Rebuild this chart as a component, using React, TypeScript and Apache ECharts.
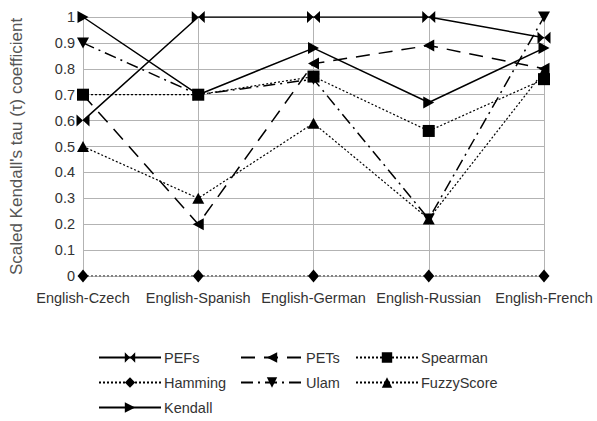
import React, { useEffect, useRef } from "react";
import * as echarts from "echarts";

const categories = ["English-Czech", "English-Spanish", "English-German", "English-Russian", "English-French"];
const pefs = [0.6, 1, 1, 1, 0.92];
const pets = [0.7, 0.2, 0.82, 0.89, 0.8];
const spearman = [0.7, 0.7, 0.77, 0.56, 0.76];
const hamming = [0, 0, 0, 0, 0];
const ulam = [0.9, 0.7, 0.76, 0.22, 1.0];
const fuzzy = [0.5, 0.3, 0.59, 0.22, 0.79];
const kendall = [1.0, 0.7, 0.88, 0.67, 0.88];

const FONT = "Liberation Sans";

const BOWTIE = "path://M0,0L5,5L0,10ZM10,0L5,5L10,10Z";
const LEFT_TRI = "path://M0,5L10,0L10,10Z";
const RIGHT_TRI = "path://M10,5L0,0L0,10Z";
const DOWN_TRI = "path://M0,0L10,0L5,10Z";

function mk(name: string, data: number[], symbol: string, size: number | number[], type: any, width = 1.5) {
  return {
    name,
    type: "line",
    data,
    symbol,
    symbolSize: size,
    symbolKeepAspect: false,
    lineStyle: { color: "#000", width, type },
    itemStyle: { color: "#000" },
    emphasis: { disabled: true },
  };
}

export default function App() {
  const ref = useRef<HTMLDivElement>(null);
  useEffect(() => {
    const chart = echarts.init(ref.current!, undefined, { renderer: "svg" });
    const legendBase = {
      orient: "vertical",
      itemWidth: 62,
      itemHeight: 13,
      itemGap: 10,
      height: 120,
      textStyle: { fontFamily: FONT, fontSize: 14.5, color: "#333", padding: [0, 0, 0, -2] },
      padding: 0,
      selectedMode: false,
    };
    chart.setOption({
      animation: false,
      backgroundColor: "#fff",
      grid: { left: 82, right: 53, top: 17, bottom: 145 },
      legend: [
        { ...legendBase, left: 98, top: 350, data: ["PEFs", "Hamming", "Kendall"] },
        { ...legendBase, left: 240, top: 350, data: ["PETs", "Ulam"] },
        { ...legendBase, left: 355, top: 350, data: ["Spearman", "FuzzyScore"] },
      ],
      xAxis: {
        type: "category",
        data: categories,
        boundaryGap: false,
        axisLine: { show: false },
        axisTick: { show: false },
        axisLabel: { fontFamily: FONT, fontSize: 14.5, color: "#333", margin: 14, interval: 0, hideOverlap: false },
        splitLine: { show: true, lineStyle: { color: "#b3b3b3", width: 1 } },
      },
      yAxis: {
        type: "value",
        min: 0,
        max: 1,
        interval: 0.1,
        axisLine: { show: false },
        axisTick: { show: false },
        axisLabel: { fontFamily: FONT, fontSize: 14.5, color: "#333", margin: 8, formatter: (v: number) => String(Math.round(v * 10) / 10) },
        splitLine: { show: true, lineStyle: { color: "#b3b3b3", width: 1 } },
        name: "Scaled Kendall's tau (τ) coefficient",
        nameLocation: "middle",
        nameGap: 58,
        nameTextStyle: { fontFamily: FONT, fontSize: 17, color: "#555" },
      },
      series: [
        mk("PEFs", pefs, BOWTIE, [13, 12], "solid"),
        mk("PETs", pets, LEFT_TRI, [11, 12], [14, 9]),
        mk("Spearman", spearman, "rect", 12, [2, 2], 1.2),
        mk("Hamming", hamming, "diamond", [11, 13], [2, 2], 1),
        mk("Ulam", ulam, DOWN_TRI, [12, 11], [12, 5, 2, 5]),
        mk("FuzzyScore", fuzzy, "triangle", [12, 11], [2, 2], 1.2),
        mk("Kendall", kendall, RIGHT_TRI, [11, 12], "solid"),
      ],
    });
    return () => chart.dispose();
  }, []);
  return <div ref={ref} style={{ width: 597, height: 421, position: "absolute", left: 0, top: 0 }} />;
}
